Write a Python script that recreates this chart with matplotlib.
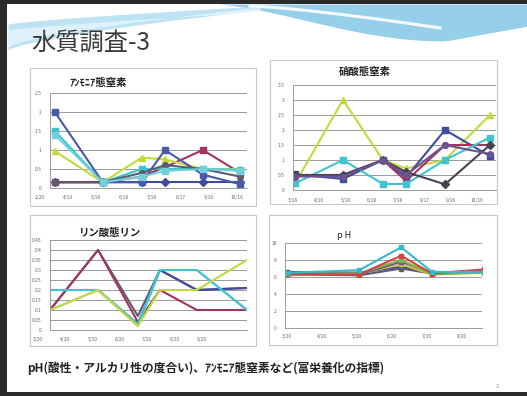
import numpy as np
import matplotlib.pyplot as plt
from matplotlib.patches import Rectangle

plt.rcParams['font.family'] = ['Noto Sans CJK JP', 'DejaVu Sans']

W, H = 527, 396

# ammonia nitrogen
nh_labels = ['2/20', '4/19', '5/18', '6/18', '7/18', '8/17', '9/16', '10/16']
nh_x = [0.53, 2.24, 3.63, 4.45, 5.8, 7.12]
nh_series = [
    [0.15, 0.15, 0.15, 0.15, 0.15, 0.15],
    [0.15, 0.15, 0.3, 0.55, 1.0, 0.4],
    [0.97, 0.15, 0.8, 0.75, 0.5, 0.5],
    [1.5, 0.15, 0.5, 0.5, 0.5, 0.48],
    [2.0, 0.15, 0.15, 1.0, 0.35, 0.1],
    [0.15, 0.15, 0.4, 0.6, 0.5, 0.3],
    [1.4, 0.15, 0.3, 0.45, 0.5, 0.45],
]

# nitrate nitrogen
no_labels = ['3/28', '4/10', '5/18', '6/18', '7/18', '8/17', '9/16', '10/16']
no_x = [0.08, 1.9, 3.42, 4.3, 5.78, 7.49]
no_series = [
    [0.22, 3.0, 1.0, 0.72, 1.0, 2.5],
    [0.52, 0.37, 1.0, 0.42, 2.0, 1.13],
    [0.5, 0.5, 1.0, 0.3, 1.5, 1.5],
    [0.22, 1.0, 0.2, 0.2, 1.0, 1.75],
    [0.5, 0.5, 1.0, 0.6, 0.19, 1.5],
    [0.45, 0.45, 1.0, 0.5, 1.5, 1.2],
]

# phosphate phosphorus
po_labels = ['3/20', '4/20', '5/20', '6/20', '7/20', '8/20', '9/20']
po_x = [0.44, 2.2, 3.66, 4.47, 5.82, 7.66]
po_series = [
    [0.1, 0.4, 0.07, 0.3, 0.2, 0.21],
    [0.1, 0.4, 0.04, 0.2, 0.1, 0.1],
    [0.2, 0.2, 0.03, 0.3, 0.2, 0.21],
    [0.1, 0.2, 0.02, 0.3, 0.3, 0.1],
    [0.2, 0.2, 0.03, 0.3, 0.3, 0.1],
    [0.1, 0.2, 0.02, 0.2, 0.2, 0.35],
]

# pH
ph_labels = ['3/20', '4/20', '5/20', '6/20', '7/20', '8/20']
ph_x = [0.0, 2.06, 3.26, 4.14, 5.63]
ph_series = [
    [6.6, 6.5, 7.2, 6.5, 6.7],
    [6.3, 6.2, 7.0, 6.4, 6.6],
    [6.4, 6.4, 7.5, 6.3, 6.6],
    [6.4, 6.3, 7.8, 6.5, 6.7],
    [6.2, 6.4, 8.0, 6.3, 6.5],
    [6.3, 6.3, 8.5, 6.4, 6.9],
    [6.5, 6.8, 9.5, 6.6, 6.6],
]

navy = '#3f4c9e'
maroon = '#a3335f'
ygreen = '#c4d83a'
cyan = '#3fc3cf'
purple = '#6c5391'
gray = '#5c5c6e'
lcyan = '#6fd2da'

fig = plt.figure(figsize=(W / 100, H / 100), dpi=100)
fig.patch.set_facecolor('white')

bg = fig.add_axes([0, 0, 1, 1])
bg.set_xlim(0, W)
bg.set_ylim(H, 0)
bg.axis('off')

# header wave
xs = np.linspace(215, W, 60)
low = 4 + 37 * np.sin(np.clip((xs - 215) / 230, 0, 1) * np.pi / 2) ** 1.5
low = np.where(xs > 445, 41 - (xs - 445) * 0.18, low)
bg.fill_between(xs, 4, low, color='#96cfea', lw=0)
xs2 = np.linspace(250, 440, 40)
bg.plot(xs2, 6 + 22 * ((xs2 - 250) / 190) ** 1.3, color='white', lw=2.2, alpha=0.9)
xs3 = np.linspace(8, 260, 60)
up = 24 - 18 * ((xs3 - 8) / 252) ** 0.8
dn = 50 - 40 * ((xs3 - 8) / 252) ** 0.7
bg.fill_between(xs3, up, dn, color='#b2ddf1', lw=0, alpha=0.85)
bg.fill_between(xs3, up + 6, dn - 3, color='white', lw=0, alpha=0.5)

# slide border
bg.add_patch(Rectangle((0, 0), W, 4, color='#2a2a2a', lw=0))
bg.add_patch(Rectangle((0, 0), 7, H, color='#2a2a2a', lw=0))
bg.add_patch(Rectangle((0, H - 4), W, 4, color='#2a2a2a', lw=0))

bg.text(31, 43, '水質調査-3', fontsize=17.5, color='#3a3a3a', va='center', ha='left')

# chart frames
for l, t, r, b in [(30, 68, 256, 206), (270, 60, 497, 204), (30, 215, 256, 346), (269, 215, 497, 345)]:
    bg.add_patch(Rectangle((l, t), r - l, b - t, fill=False, ec='#c8c8c8', lw=0.8))

bg.text(27, 368, 'pH(酸性・アルカリ性の度合い)、ｱﾝﾓﾆｱ態窒素など(富栄養化の指標)',
        fontsize=8.5, fontweight='bold', color='#222222', va='center', ha='left')
bg.text(497, 386, '2', fontsize=4, color='#999999', ha='center', va='center')


def px_axes(l, t, r, b):
    return fig.add_axes([l / W, 1 - b / H, (r - l) / W, (b - t) / H])


def style(ax, yticks, ylabels, xlim, labels):
    ax.set_xlim(*xlim)
    ax.set_ylim(yticks[0], yticks[-1])
    ax.set_yticks(yticks)
    ax.set_yticklabels(ylabels, fontsize=3.5, color='#666666')
    ax.set_xticks([])
    ax.grid(axis='y', color='#9a9a9a', lw=0.7)
    ax.set_axisbelow(True)
    ax.tick_params(axis='y', length=0, pad=6)
    for s in ['top', 'right']:
        ax.spines[s].set_visible(False)
    for s in ['left', 'bottom']:
        ax.spines[s].set_color('#9a9a9a')
        ax.spines[s].set_linewidth(0.7)
    ax.patch.set_alpha(0)
    for i, lab in enumerate(labels):
        ax.text(i, -0.1, lab, transform=ax.get_xaxis_transform(), fontsize=3.5,
                color='#666666', ha='center', va='center', clip_on=False)


# ammonia nitrogen
ax1 = px_axes(50, 93, 247, 188)
cols1 = [navy, maroon, ygreen, cyan, '#4a58a8', gray, lcyan]
marks1 = ['D', 's', '^', 's', 's', 'o', 's']
for vals, c, m in zip(nh_series, cols1, marks1):
    ax1.plot(nh_x, vals, color=c, lw=1.5, marker=m, ms=4, mec=c)
style(ax1, [0, 0.5, 1, 1.5, 2, 2.5], ['0', '0.5', '1', '1.5', '2', '2.5'], (0.36, 7.37), nh_labels)
bg.text(98, 83, 'ｱﾝﾓﾆｱ態窒素', fontsize=7.5, fontweight='bold', ha='center', va='center', color='#222222')

# nitrate nitrogen
ax2 = px_axes(293, 85, 496, 190)
cols2 = [ygreen, navy, maroon, cyan, '#444450', purple]
marks2 = ['^', 's', 'o', 's', 'D', 'o']
for vals, c, m in zip(no_series, cols2, marks2):
    ax2.plot(no_x, vals, color=c, lw=1.5, marker=m, ms=4, mec=c)
style(ax2, [0, 0.5, 1, 1.5, 2, 2.5, 3, 3.5], ['0', '0.5', '1', '1.5', '2', '2.5', '3', '3.5'],
      (0, 7.72), no_labels)
bg.text(365, 72, '硝酸態窒素', fontsize=7.5, fontweight='bold', ha='center', va='center', color='#222222')

# phosphate phosphorus
ax3 = px_axes(50, 240, 247, 330)
cols3 = [gray, maroon, navy, lcyan, cyan, ygreen]
for vals, c in zip(po_series, cols3):
    ax3.plot(po_x, vals, color=c, lw=1.5)
py = [0, 0.05, 0.1, 0.15, 0.2, 0.25, 0.3, 0.35, 0.4, 0.45]
style(ax3, py, ['0', '0.05', '0.1', '0.15', '0.2', '0.25', '0.3', '0.35', '0.4', '0.45'],
      (0.44, 7.66), po_labels)
bg.text(110, 233, 'リン酸態リン', fontsize=7.5, fontweight='bold', ha='center', va='center', color='#222222')

# pH
ax4 = px_axes(285, 243, 482, 328)
cols4 = [navy, gray, '#d8c040', purple, '#7ab648', '#d04545', '#38b8c8']
for vals, c in zip(ph_series, cols4):
    ax4.plot(ph_x, vals, color=c, lw=1.5, marker='s', ms=3.5, mec=c)
style(ax4, [0, 2, 4, 6, 8, 10], ['0', '2', '4', '6', '8', '10'], (-0.06, 5.57), ph_labels)
bg.text(344, 235, 'p H', fontsize=6.5, ha='center', va='center', color='#222222')

fig.savefig('out.png', dpi=100)
